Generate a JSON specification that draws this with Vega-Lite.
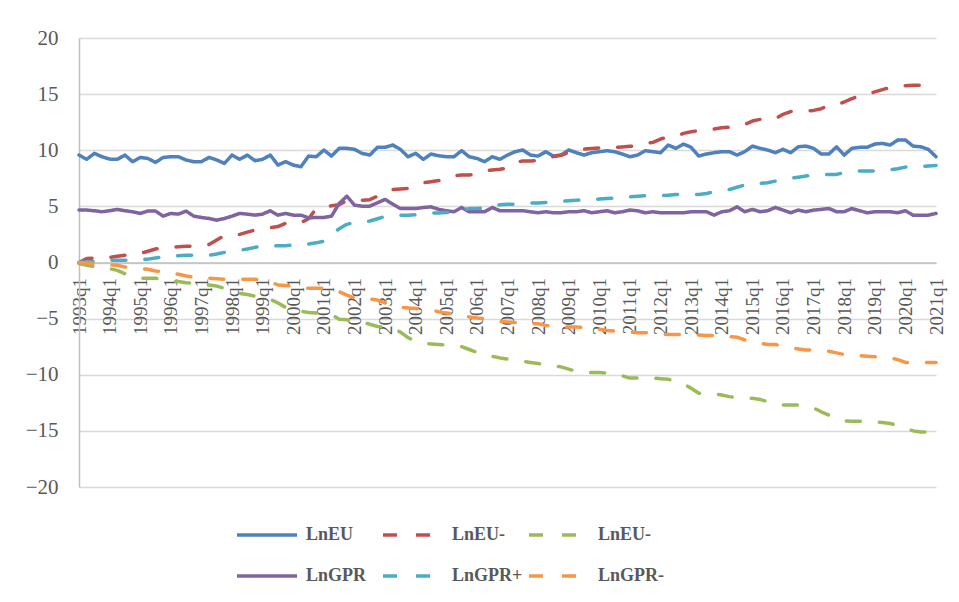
{
"$schema": "https://vega.github.io/schema/vega-lite/v6.json",
"width": 857, "height": 449,
"autosize": {"type": "none"},
"padding": {"left": 79, "top": 38, "right": 23, "bottom": 115},
"background": "white",
"config": {"view": {"stroke": null}, "font": "Liberation Serif"},
"data": {"values": [
{"q":"1993q1","eu":9.57,"eup":0,"eum":-0.1,"gpr":4.67,"gprp":0,"gprm":0},
{"q":"1993q2","eu":9.19,"eup":0.35,"eum":-0.25,"gpr":4.67,"gprp":0.05,"gprm":-0.05},
{"q":"1993q3","eu":9.72,"eup":0.4,"eum":-0.35,"gpr":4.61,"gprp":0.1,"gprm":-0.1},
{"q":"1993q4","eu":9.42,"eup":0.4,"eum":-0.5,"gpr":4.52,"gprp":0.15,"gprm":-0.15},
{"q":"1994q1","eu":9.21,"eup":0.45,"eum":-0.55,"gpr":4.61,"gprp":0.2,"gprm":-0.2},
{"q":"1994q2","eu":9.19,"eup":0.55,"eum":-0.7,"gpr":4.73,"gprp":0.2,"gprm":-0.25},
{"q":"1994q3","eu":9.57,"eup":0.65,"eum":-1.0,"gpr":4.61,"gprp":0.2,"gprm":-0.4},
{"q":"1994q4","eu":8.98,"eup":0.75,"eum":-1.3,"gpr":4.52,"gprp":0.2,"gprm":-0.5},
{"q":"1995q1","eu":9.36,"eup":0.8,"eum":-1.4,"gpr":4.37,"gprp":0.25,"gprm":-0.55},
{"q":"1995q2","eu":9.27,"eup":1.0,"eum":-1.4,"gpr":4.58,"gprp":0.3,"gprm":-0.6},
{"q":"1995q3","eu":8.92,"eup":1.2,"eum":-1.4,"gpr":4.58,"gprp":0.4,"gprm":-0.75},
{"q":"1995q4","eu":9.36,"eup":1.3,"eum":-1.5,"gpr":4.13,"gprp":0.5,"gprm":-0.85},
{"q":"1996q1","eu":9.42,"eup":1.35,"eum":-1.6,"gpr":4.37,"gprp":0.55,"gprm":-0.9},
{"q":"1996q2","eu":9.42,"eup":1.4,"eum":-1.7,"gpr":4.31,"gprp":0.6,"gprm":-1.05},
{"q":"1996q3","eu":9.13,"eup":1.45,"eum":-1.8,"gpr":4.58,"gprp":0.65,"gprm":-1.2},
{"q":"1996q4","eu":8.98,"eup":1.45,"eum":-1.85,"gpr":4.13,"gprp":0.65,"gprm":-1.3},
{"q":"1997q1","eu":8.98,"eup":1.5,"eum":-1.95,"gpr":4.01,"gprp":0.65,"gprm":-1.37},
{"q":"1997q2","eu":9.36,"eup":1.6,"eum":-2.0,"gpr":3.92,"gprp":0.65,"gprm":-1.4},
{"q":"1997q3","eu":9.13,"eup":2.0,"eum":-2.1,"gpr":3.77,"gprp":0.75,"gprm":-1.45},
{"q":"1997q4","eu":8.83,"eup":2.4,"eum":-2.3,"gpr":3.92,"gprp":0.9,"gprm":-1.49},
{"q":"1998q1","eu":9.57,"eup":2.5,"eum":-2.5,"gpr":4.13,"gprp":1.0,"gprm":-1.5},
{"q":"1998q2","eu":9.19,"eup":2.5,"eum":-2.75,"gpr":4.37,"gprp":1.1,"gprm":-1.5},
{"q":"1998q3","eu":9.57,"eup":2.7,"eum":-2.85,"gpr":4.31,"gprp":1.2,"gprm":-1.5},
{"q":"1998q4","eu":9.07,"eup":2.9,"eum":-3.0,"gpr":4.22,"gprp":1.35,"gprm":-1.5},
{"q":"1999q1","eu":9.19,"eup":3.0,"eum":-3.1,"gpr":4.31,"gprp":1.45,"gprm":-1.55},
{"q":"1999q2","eu":9.57,"eup":3.1,"eum":-3.3,"gpr":4.61,"gprp":1.45,"gprm":-1.75},
{"q":"1999q3","eu":8.68,"eup":3.2,"eum":-3.6,"gpr":4.22,"gprp":1.5,"gprm":-2.0},
{"q":"1999q4","eu":8.98,"eup":3.5,"eum":-4.0,"gpr":4.37,"gprp":1.5,"gprm":-2.05},
{"q":"2000q1","eu":8.68,"eup":3.5,"eum":-4.25,"gpr":4.22,"gprp":1.55,"gprm":-2.1},
{"q":"2000q2","eu":8.53,"eup":3.55,"eum":-4.35,"gpr":4.22,"gprp":1.6,"gprm":-2.25},
{"q":"2000q3","eu":9.48,"eup":3.9,"eum":-4.45,"gpr":3.98,"gprp":1.65,"gprm":-2.3},
{"q":"2000q4","eu":9.42,"eup":4.8,"eum":-4.5,"gpr":4.01,"gprp":1.75,"gprm":-2.3},
{"q":"2001q1","eu":10.02,"eup":4.95,"eum":-4.55,"gpr":4.01,"gprp":1.9,"gprm":-2.3},
{"q":"2001q2","eu":9.48,"eup":5.05,"eum":-4.65,"gpr":4.13,"gprp":2.5,"gprm":-2.35},
{"q":"2001q3","eu":10.17,"eup":5.15,"eum":-5.05,"gpr":5.26,"gprp":3.0,"gprm":-2.6},
{"q":"2001q4","eu":10.17,"eup":5.5,"eum":-5.1,"gpr":5.91,"gprp":3.4,"gprm":-2.9},
{"q":"2002q1","eu":10.08,"eup":5.55,"eum":-5.2,"gpr":5.11,"gprp":3.55,"gprm":-3.15},
{"q":"2002q2","eu":9.72,"eup":5.55,"eum":-5.3,"gpr":5.02,"gprp":3.6,"gprm":-3.2},
{"q":"2002q3","eu":9.57,"eup":5.6,"eum":-5.5,"gpr":5.02,"gprp":3.7,"gprm":-3.25},
{"q":"2002q4","eu":10.26,"eup":5.9,"eum":-5.7,"gpr":5.32,"gprp":3.9,"gprm":-3.35},
{"q":"2003q1","eu":10.26,"eup":6.3,"eum":-5.75,"gpr":5.62,"gprp":4.1,"gprm":-3.6},
{"q":"2003q2","eu":10.46,"eup":6.5,"eum":-5.85,"gpr":5.2,"gprp":4.2,"gprm":-3.95},
{"q":"2003q3","eu":10.08,"eup":6.55,"eum":-6.2,"gpr":4.81,"gprp":4.2,"gprm":-4.0},
{"q":"2003q4","eu":9.42,"eup":6.6,"eum":-6.7,"gpr":4.81,"gprp":4.2,"gprm":-4.05},
{"q":"2004q1","eu":9.72,"eup":6.9,"eum":-7.0,"gpr":4.81,"gprp":4.25,"gprm":-4.1},
{"q":"2004q2","eu":9.19,"eup":7.1,"eum":-7.2,"gpr":4.9,"gprp":4.35,"gprm":-4.15},
{"q":"2004q3","eu":9.66,"eup":7.2,"eum":-7.25,"gpr":4.96,"gprp":4.4,"gprm":-4.2},
{"q":"2004q4","eu":9.51,"eup":7.3,"eum":-7.3,"gpr":4.73,"gprp":4.4,"gprm":-4.4},
{"q":"2005q1","eu":9.42,"eup":7.4,"eum":-7.35,"gpr":4.61,"gprp":4.45,"gprm":-4.5},
{"q":"2005q2","eu":9.42,"eup":7.7,"eum":-7.4,"gpr":4.52,"gprp":4.5,"gprm":-4.6},
{"q":"2005q3","eu":9.96,"eup":7.8,"eum":-7.5,"gpr":4.9,"gprp":4.7,"gprm":-4.75},
{"q":"2005q4","eu":9.42,"eup":7.8,"eum":-7.75,"gpr":4.52,"gprp":4.8,"gprm":-4.85},
{"q":"2006q1","eu":9.27,"eup":7.9,"eum":-8.0,"gpr":4.52,"gprp":4.8,"gprm":-4.95},
{"q":"2006q2","eu":8.98,"eup":8.15,"eum":-8.2,"gpr":4.52,"gprp":4.85,"gprm":-5.0},
{"q":"2006q3","eu":9.42,"eup":8.25,"eum":-8.35,"gpr":4.9,"gprp":5.0,"gprm":-5.15},
{"q":"2006q4","eu":9.19,"eup":8.3,"eum":-8.5,"gpr":4.61,"gprp":5.15,"gprm":-5.25},
{"q":"2007q1","eu":9.57,"eup":8.4,"eum":-8.6,"gpr":4.61,"gprp":5.2,"gprm":-5.3},
{"q":"2007q2","eu":9.87,"eup":8.9,"eum":-8.7,"gpr":4.61,"gprp":5.2,"gprm":-5.35},
{"q":"2007q3","eu":10.02,"eup":9.05,"eum":-8.8,"gpr":4.61,"gprp":5.25,"gprm":-5.4},
{"q":"2007q4","eu":9.57,"eup":9.05,"eum":-8.9,"gpr":4.52,"gprp":5.3,"gprm":-5.45},
{"q":"2008q1","eu":9.48,"eup":9.1,"eum":-9.0,"gpr":4.43,"gprp":5.3,"gprm":-5.45},
{"q":"2008q2","eu":9.87,"eup":9.2,"eum":-9.1,"gpr":4.52,"gprp":5.35,"gprm":-5.6},
{"q":"2008q3","eu":9.48,"eup":9.45,"eum":-9.2,"gpr":4.43,"gprp":5.4,"gprm":-5.75},
{"q":"2008q4","eu":9.57,"eup":9.55,"eum":-9.3,"gpr":4.43,"gprp":5.45,"gprm":-5.75},
{"q":"2009q1","eu":10.02,"eup":9.8,"eum":-9.5,"gpr":4.52,"gprp":5.5,"gprm":-5.75},
{"q":"2009q2","eu":9.78,"eup":10.0,"eum":-9.7,"gpr":4.52,"gprp":5.55,"gprm":-5.75},
{"q":"2009q3","eu":9.57,"eup":10.1,"eum":-9.75,"gpr":4.61,"gprp":5.6,"gprm":-5.8},
{"q":"2009q4","eu":9.78,"eup":10.15,"eum":-9.8,"gpr":4.43,"gprp":5.6,"gprm":-5.85},
{"q":"2010q1","eu":9.87,"eup":10.2,"eum":-9.8,"gpr":4.52,"gprp":5.65,"gprm":-5.95},
{"q":"2010q2","eu":9.96,"eup":10.2,"eum":-9.85,"gpr":4.61,"gprp":5.7,"gprm":-6.05},
{"q":"2010q3","eu":9.87,"eup":10.25,"eum":-9.9,"gpr":4.43,"gprp":5.75,"gprm":-6.1},
{"q":"2010q4","eu":9.66,"eup":10.3,"eum":-10.1,"gpr":4.52,"gprp":5.8,"gprm":-6.15},
{"q":"2011q1","eu":9.42,"eup":10.35,"eum":-10.3,"gpr":4.67,"gprp":5.85,"gprm":-6.2},
{"q":"2011q2","eu":9.57,"eup":10.4,"eum":-10.3,"gpr":4.61,"gprp":5.9,"gprm":-6.25},
{"q":"2011q3","eu":9.96,"eup":10.6,"eum":-10.3,"gpr":4.43,"gprp":5.95,"gprm":-6.25},
{"q":"2011q4","eu":9.87,"eup":10.7,"eum":-10.3,"gpr":4.52,"gprp":5.95,"gprm":-6.3},
{"q":"2012q1","eu":9.78,"eup":11.0,"eum":-10.35,"gpr":4.43,"gprp":5.95,"gprm":-6.4},
{"q":"2012q2","eu":10.46,"eup":11.2,"eum":-10.4,"gpr":4.43,"gprp":6.0,"gprm":-6.42},
{"q":"2012q3","eu":10.17,"eup":11.25,"eum":-10.6,"gpr":4.43,"gprp":6.05,"gprm":-6.42},
{"q":"2012q4","eu":10.55,"eup":11.5,"eum":-10.8,"gpr":4.43,"gprp":6.05,"gprm":-6.42},
{"q":"2013q1","eu":10.26,"eup":11.65,"eum":-11.2,"gpr":4.52,"gprp":6.05,"gprm":-6.42},
{"q":"2013q2","eu":9.48,"eup":11.75,"eum":-11.65,"gpr":4.52,"gprp":6.05,"gprm":-6.45},
{"q":"2013q3","eu":9.66,"eup":11.85,"eum":-11.65,"gpr":4.52,"gprp":6.15,"gprm":-6.5},
{"q":"2013q4","eu":9.78,"eup":11.9,"eum":-11.7,"gpr":4.22,"gprp":6.3,"gprm":-6.5},
{"q":"2014q1","eu":9.87,"eup":12.0,"eum":-11.8,"gpr":4.52,"gprp":6.4,"gprm":-6.5},
{"q":"2014q2","eu":9.87,"eup":12.05,"eum":-11.95,"gpr":4.61,"gprp":6.5,"gprm":-6.6},
{"q":"2014q3","eu":9.57,"eup":12.1,"eum":-12.05,"gpr":4.96,"gprp":6.7,"gprm":-6.65},
{"q":"2014q4","eu":9.87,"eup":12.3,"eum":-12.1,"gpr":4.52,"gprp":6.9,"gprm":-6.9},
{"q":"2015q1","eu":10.37,"eup":12.6,"eum":-12.1,"gpr":4.73,"gprp":7.05,"gprm":-7.1},
{"q":"2015q2","eu":10.17,"eup":12.75,"eum":-12.2,"gpr":4.52,"gprp":7.05,"gprm":-7.2},
{"q":"2015q3","eu":10.02,"eup":12.75,"eum":-12.4,"gpr":4.61,"gprp":7.1,"gprm":-7.3},
{"q":"2015q4","eu":9.78,"eup":12.8,"eum":-12.55,"gpr":4.9,"gprp":7.25,"gprm":-7.3},
{"q":"2016q1","eu":10.08,"eup":13.2,"eum":-12.7,"gpr":4.67,"gprp":7.4,"gprm":-7.45},
{"q":"2016q2","eu":9.78,"eup":13.45,"eum":-12.7,"gpr":4.43,"gprp":7.5,"gprm":-7.6},
{"q":"2016q3","eu":10.31,"eup":13.5,"eum":-12.7,"gpr":4.67,"gprp":7.6,"gprm":-7.7},
{"q":"2016q4","eu":10.37,"eup":13.5,"eum":-12.75,"gpr":4.52,"gprp":7.7,"gprm":-7.8},
{"q":"2017q1","eu":10.17,"eup":13.55,"eum":-12.95,"gpr":4.67,"gprp":7.8,"gprm":-7.8},
{"q":"2017q2","eu":9.66,"eup":13.7,"eum":-13.3,"gpr":4.73,"gprp":7.85,"gprm":-7.85},
{"q":"2017q3","eu":9.66,"eup":14.0,"eum":-13.6,"gpr":4.81,"gprp":7.85,"gprm":-7.9},
{"q":"2017q4","eu":10.31,"eup":14.05,"eum":-13.85,"gpr":4.52,"gprp":7.85,"gprm":-8.05},
{"q":"2018q1","eu":9.57,"eup":14.3,"eum":-14.1,"gpr":4.52,"gprp":8.0,"gprm":-8.2},
{"q":"2018q2","eu":10.17,"eup":14.6,"eum":-14.15,"gpr":4.81,"gprp":8.15,"gprm":-8.25},
{"q":"2018q3","eu":10.26,"eup":14.85,"eum":-14.15,"gpr":4.61,"gprp":8.15,"gprm":-8.3},
{"q":"2018q4","eu":10.26,"eup":15.0,"eum":-14.15,"gpr":4.43,"gprp":8.15,"gprm":-8.35},
{"q":"2019q1","eu":10.55,"eup":15.2,"eum":-14.2,"gpr":4.52,"gprp":8.15,"gprm":-8.4},
{"q":"2019q2","eu":10.61,"eup":15.4,"eum":-14.25,"gpr":4.52,"gprp":8.2,"gprm":-8.45},
{"q":"2019q3","eu":10.46,"eup":15.6,"eum":-14.35,"gpr":4.52,"gprp":8.25,"gprm":-8.5},
{"q":"2019q4","eu":10.91,"eup":15.7,"eum":-14.5,"gpr":4.43,"gprp":8.35,"gprm":-8.65},
{"q":"2020q1","eu":10.91,"eup":15.75,"eum":-14.75,"gpr":4.61,"gprp":8.5,"gprm":-8.9},
{"q":"2020q2","eu":10.37,"eup":15.8,"eum":-15.0,"gpr":4.22,"gprp":8.5,"gprm":-8.9},
{"q":"2020q3","eu":10.31,"eup":15.8,"eum":-15.1,"gpr":4.22,"gprp":8.55,"gprm":-8.9},
{"q":"2020q4","eu":10.08,"eup":15.8,"eum":-15.1,"gpr":4.22,"gprp":8.6,"gprm":-8.9},
{"q":"2021q1","eu":9.42,"eup":15.8,"eum":-15.1,"gpr":4.37,"gprp":8.65,"gprm":-8.9}
]},
"transform": [{"fold": ["eu","eup","eum","gpr","gprp","gprm"], "as": ["key","value"]}],
"mark": {"type": "line", "strokeWidth": 3.5, "strokeCap": "round", "strokeJoin": "round"},
"encoding": {
  "x": {"field": "q", "type": "ordinal", "scale": {"type": "point", "padding": 0},
    "axis": {"title": null, "offset": -224.5, "grid": false, "ticks": false, "tickSize": 0,
      "values": ["1993q1","1994q1","1995q1","1996q1","1997q1","1998q1","1999q1","2000q1","2001q1","2002q1","2003q1","2004q1","2005q1","2006q1","2007q1","2008q1","2009q1","2010q1","2011q1","2012q1","2013q1","2014q1","2015q1","2016q1","2017q1","2018q1","2019q1","2020q1","2021q1"],
      "labelAngle": 270, "labelFont": "Liberation Serif", "labelFontSize": 19, "labelColor": "#595959", "labelPadding": 15,
      "domainColor": "#BFBFBF", "domainWidth": 1.3, "labelOverlap": false}},
  "y": {"field": "value", "type": "quantitative", "scale": {"domain": [-20, 20], "nice": false},
    "axis": {"title": null, "values": [-20,-15,-10,-5,0,5,10,15,20], "ticks": false, "tickSize": 0,
      "gridColor": "#D9D9D9", "gridWidth": 1.3, "domainColor": "#BFBFBF", "domainWidth": 1.5,
      "labelFont": "Liberation Serif", "labelFontSize": 21, "labelColor": "#595959", "labelPadding": 21}},
  "color": {"field": "key", "type": "nominal",
    "scale": {"domain": ["eu","eup","eum","gpr","gprp","gprm"], "range": ["#4F81BD","#C0504D","#9BBB59","#8064A2","#4BACC6","#F79646"]},
    "legend": {"title": null, "orient": "none", "legendX": 156, "legendY": 465, "direction": "horizontal", "columns": 3, "gridAlign": "all",
      "columnPadding": -1, "rowPadding": -24, "padding": 0, "symbolType": "stroke", "symbolSize": 3600, "symbolStrokeWidth": 3.5,
      "labelFont": "Liberation Serif", "labelFontWeight": "bold", "labelFontSize": 18, "labelColor": "#595959", "labelOffset": 7,
      "labelExpr": "datum.value == 'eu' ? 'LnEU' : datum.value == 'eup' ? 'LnEU-' : datum.value == 'eum' ? 'LnEU-' : datum.value == 'gpr' ? 'LnGPR' : datum.value == 'gprp' ? 'LnGPR+' : 'LnGPR-'"}},
  "strokeDash": {"field": "key", "type": "nominal",
    "scale": {"domain": ["eu","eup","eum","gpr","gprp","gprm"], "range": [[1,0],[14,19],[14,19],[1,0],[14,19],[14,19]]},
    "legend": {"title": null, "orient": "none", "legendX": 156, "legendY": 465, "direction": "horizontal", "columns": 3, "gridAlign": "all",
      "columnPadding": -1, "rowPadding": -24, "padding": 0, "symbolType": "stroke", "symbolSize": 3600, "symbolStrokeWidth": 3.5,
      "labelFont": "Liberation Serif", "labelFontWeight": "bold", "labelFontSize": 18, "labelColor": "#595959", "labelOffset": 7,
      "labelExpr": "datum.value == 'eu' ? 'LnEU' : datum.value == 'eup' ? 'LnEU-' : datum.value == 'eum' ? 'LnEU-' : datum.value == 'gpr' ? 'LnGPR' : datum.value == 'gprp' ? 'LnGPR+' : 'LnGPR-'"}}
}
}
